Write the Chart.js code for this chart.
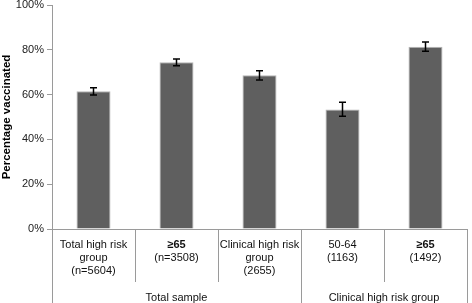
<!DOCTYPE html>
<html>
<head>
<meta charset="utf-8">
<script src="https://cdn.jsdelivr.net/npm/chart.js@4"></script>
<style>
  html, body { margin: 0; padding: 0; background: #fff; }
  #wrap { width: 472px; height: 303px; }
</style>
</head>
<body>
<div id="wrap"><canvas id="myChart"></canvas></div>
<script>
// data
const categories = [
    ['Total high risk', 'group', '(n=5604)'],
    ['≥65', '(n=3508)'],
    ['Clinical high risk', 'group', '(2655)'],
    ['50-64', '(1163)'],
    ['≥65', '(1492)']
]
const boldFirstLine = [false, true, false, false, true]
const groups = ['Total sample', 'Clinical high risk group']
const groupSpans = [[0, 2], [3, 4]]
const vaccinated = [61.5, 74.4, 68.6, 53.4, 81.4]
const errLow = [59.8, 72.9, 66.5, 50.3, 79.3]
const errHigh = [63.1, 75.9, 70.6, 56.6, 83.5]
const yTicks = [0, 20, 40, 60, 80, 100]

const FONT = '"Liberation Sans", Arial, sans-serif'
const LINE = '#9a9a9a'

const errorBars = {
    id: 'errorBars',
    afterDatasetsDraw(chart) {
        const ctx = chart.ctx
        const x = chart.scales.x
        const y = chart.scales.y
        ctx.save()
        ctx.strokeStyle = '#000'
        ctx.lineWidth = 1.5
        for (let i = 0; i < vaccinated.length; i++) {
            const px = x.getPixelForValue(i)
            const lo = y.getPixelForValue(errLow[i])
            const hi = y.getPixelForValue(errHigh[i])
            ctx.beginPath()
            ctx.moveTo(px, lo); ctx.lineTo(px, hi)
            ctx.moveTo(px - 3.5, lo); ctx.lineTo(px + 3.5, lo)
            ctx.moveTo(px - 3.5, hi); ctx.lineTo(px + 3.5, hi)
            ctx.stroke()
        }
        ctx.restore()
    }
}

const categoryBoxes = {
    id: 'categoryBoxes',
    afterDraw(chart) {
        const ctx = chart.ctx
        const x = chart.scales.x
        const area = chart.chartArea
        const bottom = chart.height
        const step = x.getPixelForValue(1) - x.getPixelForValue(0)
        const edge = i => x.getPixelForValue(i) - step / 2
        ctx.save()
        ctx.strokeStyle = LINE
        ctx.lineWidth = 1
        // x axis line
        ctx.beginPath()
        ctx.moveTo(area.left - 5, Math.round(area.bottom) + 0.5)
        ctx.lineTo(area.right, Math.round(area.bottom) + 0.5)
        // dividers
        for (let i = 0; i <= categories.length; i++) {
            const full = i === 0 || i === categories.length || groupSpans.some(s => s[0] === i)
            const px = Math.round(edge(i)) + 0.5
            ctx.moveTo(px, area.bottom)
            ctx.lineTo(px, full ? bottom : area.bottom + 53)
        }
        ctx.stroke()

        ctx.fillStyle = '#111'
        ctx.textAlign = 'center'
        ctx.textBaseline = 'middle'
        categories.forEach((lines, i) => {
            const px = x.getPixelForValue(i)
            lines.forEach((t, j) => {
                ctx.font = (j === 0 && boldFirstLine[i] ? 'bold ' : '') + '11px ' + FONT
                ctx.fillText(t, px, area.bottom + 15.5 + j * 13)
            })
        })
        ctx.font = '11px ' + FONT
        groups.forEach((g, k) => {
            const mid = (edge(groupSpans[k][0]) + edge(groupSpans[k][1] + 1)) / 2
            ctx.fillText(g, mid, area.bottom + 68.5)
        })
        ctx.restore()
    }
}

const ctx = document.getElementById('myChart').getContext('2d')

const myChart = new Chart(ctx, {
    type: 'bar',
    data: {
        labels: categories.map(c => c.join(' ')),
        datasets: [{
            label: 'Percentage vaccinated',
            data: vaccinated,
            backgroundColor: '#5f5f5f',
            borderColor: '#b5b5b5',
            borderWidth: 1,
            barPercentage: 1,
            categoryPercentage: 0.41
        }]
    },
    options: {
        responsive: true,
        maintainAspectRatio: false,
        animation: false,
        layout: { padding: { top: 0, right: 5, bottom: 0, left: 0 } },
        plugins: {
            legend: { display: false },
            tooltip: { enabled: false }
        },
        scales: {
            x: {
                grid: { display: false, drawTicks: false },
                border: { display: false },
                ticks: { display: false },
                afterFit: s => { s.height = 74 }
            },
            y: {
                min: 0,
                max: 100,
                afterBuildTicks: s => { s.ticks = yTicks.map(v => ({ value: v })) },
                grid: { display: true, drawOnChartArea: false, tickLength: 5, color: LINE },
                border: { display: true, color: LINE },
                ticks: {
                    callback: v => v + '%',
                    color: '#222',
                    padding: 3,
                    font: { family: FONT, size: 11 }
                },
                title: {
                    display: true,
                    text: 'Percentage vaccinated',
                    color: '#000',
                    padding: { top: 0, bottom: 4 },
                    font: { family: FONT, size: 11.5, weight: 'bold' }
                },
                afterFit: s => { s.width = 52; s.paddingTop = 5; s.paddingBottom = 0 }
            }
        }
    },
    plugins: [errorBars, categoryBoxes]
})
</script>
</body>
</html>
